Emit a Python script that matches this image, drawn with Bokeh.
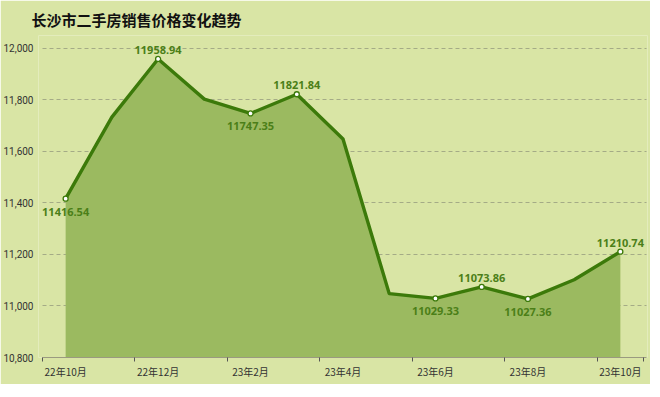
from bokeh.plotting import figure
from bokeh.models import Range1d, FixedTicker, ColumnDataSource, NumeralTickFormatter, LabelSet
from bokeh.core.properties import value
from bokeh.embed import file_html
from bokeh.resources import INLINE

months = ["22年10月", "22年11月", "22年12月", "23年1月", "23年2月", "23年3月", "23年4月",
          "23年5月", "23年6月", "23年7月", "23年8月", "23年9月", "23年10月"]
prices = [11416.54, 11733, 11958.94, 11803, 11747.35, 11821.84, 11648,
          11048, 11029.33, 11073.86, 11027.36, 11102, 11210.74]
label_idx = [0, 2, 4, 5, 8, 9, 10, 12]
label_above = [False, True, False, True, False, True, False, True]
y_ticks = [10800, 11000, 11200, 11400, 11600, 11800, 12000]

BG = "#d9e5a5"
FILL = "#9bba60"
LINE = "#3c7a0a"
LABEL = "#4b7f18"

xs = list(range(len(months)))
PAD = 0.087
x_lo, x_hi = -0.5, len(months) - 0.5

p = figure(frame_width=609, frame_height=322, output_backend="svg", toolbar_location=None,
           x_range=Range1d(x_lo - PAD, x_hi + PAD), y_range=Range1d(10800, 12050),
           min_border_left=32, min_border_right=3, min_border_top=24, min_border_bottom=27)
p.background_fill_color = BG
p.border_fill_color = BG
p.outline_line_color = None

p.title.text = "长沙市二手房销售价格变化趋势"
p.title.text_font = "Noto Sans CJK SC"
p.title.text_font_size = "15px"
p.title.text_font_style = "bold"
p.title.text_color = "#111111"
p.title.align = "left"
p.title.offset = -7
p.title.standoff = 12

src = ColumnDataSource(dict(x=xs, y=prices, base=[y_ticks[0]] * len(xs)))
p.varea(x="x", y1="base", y2="y", source=src, fill_color=FILL, fill_alpha=1)
p.line(x="x", y="y", source=src, line_color=LINE, line_width=3.4, line_join="round")

lx = [xs[i] for i in label_idx]
ly = [prices[i] for i in label_idx]
lt = ["%.2f" % prices[i] for i in label_idx]
loff = [5 if a else -17 for a in label_above]
lsrc = ColumnDataSource(dict(x=lx, y=ly, t=lt, off=loff))
p.scatter(x="x", y="y", source=lsrc, size=5, fill_color="white", line_color=LINE, line_width=1.3)
labels = LabelSet(x="x", y="y", text="t", source=lsrc, y_offset="off",
                  text_align="center", text_baseline="bottom", text_font=value("Noto Sans"),
                  text_font_size=value("11px"), text_font_style="bold", text_color=LABEL)
p.add_layout(labels)

# axes
xa = p.xaxis[0]
xa.ticker = FixedTicker(ticks=xs[::2], minor_ticks=[x - 0.5 for x in xs[::2]] + [x_hi])
xa.major_label_overrides = {i: months[i] for i in xs[::2]}
xa.major_label_text_font = "Noto Sans CJK SC"
xa.major_label_text_font_size = "10px"
xa.major_label_text_color = "#333333"
xa.major_tick_line_color = None
xa.major_tick_out = 0
xa.major_tick_in = 0
xa.minor_tick_in = 0
xa.minor_tick_out = 4
xa.minor_tick_line_color = "#555555"
xa.axis_line_color = "#9a9a80"
xa.major_label_standoff = 2
xa.bounds = (x_lo, x_hi + 0.06)

ya = p.yaxis[0]
ya.ticker = FixedTicker(ticks=y_ticks)
ya.formatter = NumeralTickFormatter(format="0,0")
ya.major_label_text_font = "Roboto"
ya.major_label_text_font_size = "10px"
ya.major_label_text_color = "#333333"
ya.axis_line_color = None
ya.major_tick_line_color = None
ya.minor_tick_line_color = None
ya.major_tick_out = 0
ya.major_tick_in = 0
ya.minor_tick_out = 0
ya.minor_tick_in = 0
ya.major_label_standoff = 5

p.xgrid.grid_line_color = None
p.ygrid.grid_line_color = "#a4ab86"
p.ygrid.grid_line_dash = "4 3"
p.ygrid.grid_line_width = 1
p.ygrid.cross_bounds = (x_lo, x_hi + 0.06)

html = file_html(p, INLINE)
html = html.replace("<body>", '<body style="background:%s;">' % BG, 1)
open("out.html", "w").write(html)
